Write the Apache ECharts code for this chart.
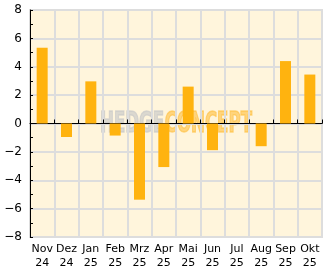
<!DOCTYPE html>
<html><head><meta charset="utf-8">
<script src="https://cdn.jsdelivr.net/npm/echarts@6/dist/echarts.min.js"></script>
<style>html,body{margin:0;padding:0;background:#fff}#c{width:332px;height:269px}</style>
</head><body><div id="c"></div>
<script>
var categories = ['Nov\n24','Dez\n24','Jan\n25','Feb\n25','Mrz\n25','Apr\n25','Mai\n25','Jun\n25','Jul\n25','Aug\n25','Sep\n25','Okt\n25'];
var values = [5.34, -0.95, 2.97, -0.85, -5.37, -3.07, 2.6, -1.88, 0, -1.6, 4.4, 3.45];
var yMin = -8, yMax = 8, yStep = 2;

var chart = echarts.init(document.getElementById('c'), null, {renderer:'canvas'});
var font = 'DejaVu Sans';
var wm = {fontFamily:'DejaVu Sans Condensed',fontWeight:'bold',fontSize:28,verticalAlign:'top',lineWidth:1.4};
chart.setOption({
  animation:false,
  grid:{left:30,right:10,top:10,bottom:32,outerBoundsMode:'none',containLabel:false,show:true,backgroundColor:'#fff5dc',borderColor:'#dddddd',borderWidth:2},
  xAxis:{type:'category',data:categories,boundaryGap:true,
    axisLine:{lineStyle:{color:'#000',width:1}},
    axisTick:{show:true,inside:true,length:4,lineStyle:{color:'#000'}},
    axisLabel:{color:'#000',fontFamily:font,fontSize:11,lineHeight:14,margin:5,interval:0},
    splitLine:{show:true,lineStyle:{color:'#dddddd',width:2}}},
  yAxis:{type:'value',min:yMin,max:yMax,interval:yStep,
    axisLine:{show:true,lineStyle:{color:'#000',width:1}},
    axisTick:{show:true,inside:true,length:3,lineStyle:{color:'#000'}},
    minorTick:{show:true,splitNumber:2,length:3,lineStyle:{color:'#000'}},
    axisLabel:{color:'#000',fontFamily:font,fontSize:12,margin:8,formatter:function(v){return String(v).replace('-','\u2212');}},
    splitLine:{show:true,lineStyle:{color:'#dddddd',width:2}}},
  graphic:[{type:'group',x:100,y:111,scaleX:0.66,z:100,children:[
    {type:'text',x:0,y:0,style:Object.assign({text:'HEDGE',fill:'rgba(200,200,200,0.65)',stroke:'rgba(200,200,200,0.65)'},wm)},
    {type:'text',x:98,y:0,style:Object.assign({text:'CONCEPT',fill:'rgba(255,190,60,0.6)',stroke:'rgba(255,190,60,0.6)'},wm)}
  ]}],
  series:[{type:'bar',data:values,barWidth:11,itemStyle:{color:'#ffb30f'}}]
});
</script></body></html>
